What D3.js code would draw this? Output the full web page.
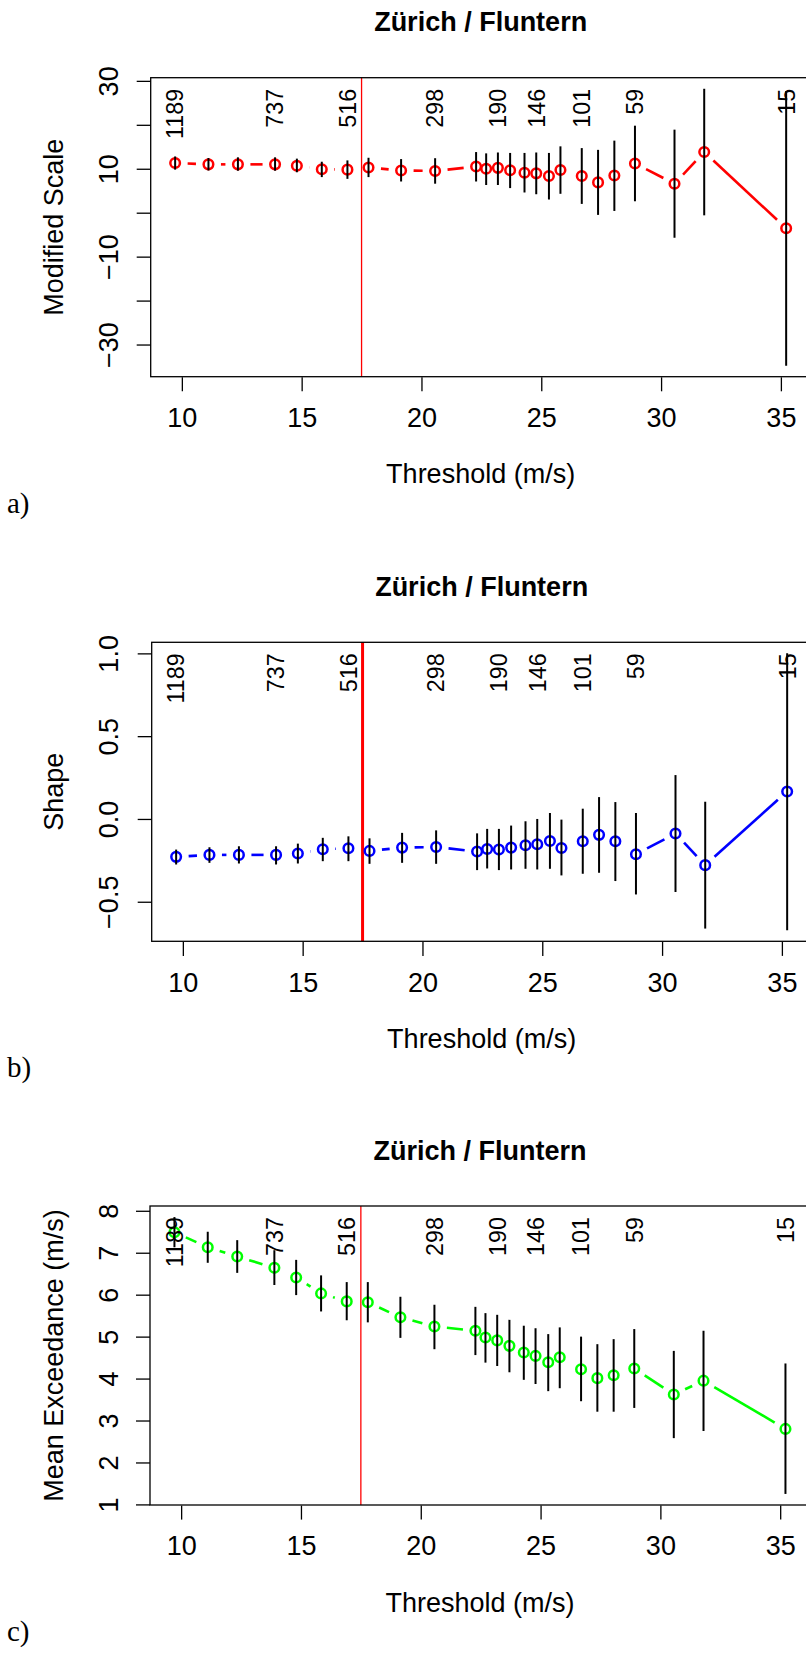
<!DOCTYPE html>
<html>
<head>
<meta charset="utf-8">
<script src="https://cdn.jsdelivr.net/npm/d3@7"></script>
<style>
  body { margin: 0; background: #fff; }
  text { font-family: "Liberation Sans", Arial, Helvetica, sans-serif; }
</style>
</head>
<body>
<div id="chart"></div>
<script>
// thresholds (m/s) used for the stability plots
const thresholds = [9.72, 11.11, 12.34, 13.89, 14.80, 15.84, 16.91, 17.79, 19.15, 20.57,
  22.28, 22.70, 23.19, 23.70, 24.30, 24.79, 25.32, 25.80, 26.69, 27.37,
  28.05, 28.91, 30.56, 31.80, 35.22]

// number of exceedances, printed above every third threshold
const countIndex = [0, 3, 6, 9, 12, 15, 18, 21, 24]
const countLabels = ["1189", "737", "516", "298", "190", "146", "101", "59", "15"]

const chosenThreshold = 17.5

// a) modified scale
const scaleEst = [11.32, 11.0, 11.0, 11.0, 10.7, 9.9, 9.8, 10.3, 9.6, 9.5,
  10.5, 10.0, 10.2, 9.65, 9.1, 8.95, 8.35, 9.7, 8.35, 6.9,
  8.45, 11.2, 6.6, 13.8, -3.55]
const scaleLo = [9.8, 9.6, 9.55, 9.55, 9.2, 8.1, 7.7, 8.1, 7.1, 6.6,
  7.1, 6.3, 6.3, 5.6, 4.6, 4.2, 3.0, 4.3, 2.0, -0.5,
  0.4, 2.6, -5.7, -0.6, -34.8]
const scaleHi = [12.8, 12.45, 12.6, 12.6, 12.3, 11.6, 11.9, 12.5, 12.2, 12.4,
  13.8, 13.5, 13.7, 13.6, 13.6, 13.7, 13.6, 15.1, 14.7, 14.3,
  16.4, 19.8, 18.9, 28.2, 27.7]
const scaleTicks = [-30, -20, -10, 0, 10, 20, 30]
const scaleTickLabels = [-30, -10, 10, 30]

// b) shape
const shapeEst = [-0.229, -0.217, -0.217, -0.217, -0.209, -0.183, -0.177, -0.193, -0.173, -0.169,
  -0.197, -0.181, -0.185, -0.173, -0.159, -0.153, -0.133, -0.175, -0.135, -0.096,
  -0.135, -0.213, -0.088, -0.279, 0.166]
const shapeLo = [-0.275, -0.265, -0.269, -0.275, -0.269, -0.255, -0.255, -0.271, -0.265, -0.271,
  -0.309, -0.299, -0.309, -0.305, -0.301, -0.305, -0.301, -0.341, -0.331, -0.325,
  -0.375, -0.456, -0.441, -0.662, -0.672]
const shapeHi = [-0.185, -0.171, -0.165, -0.165, -0.149, -0.114, -0.105, -0.117, -0.084, -0.069,
  -0.087, -0.06, -0.06, -0.04, -0.014, 0.0, 0.036, -0.004, 0.062, 0.132,
  0.102, 0.036, 0.265, 0.104, 1.0]
const shapeTicks = [-0.5, 0, 0.5, 1.0]
const shapeTickLabels = [-0.5, 0, 0.5, 1.0]

// c) mean exceedance
const meanEst = [7.49, 7.13, 6.91, 6.64, 6.41, 6.03, 5.84, 5.82, 5.46, 5.24,
  5.14, 4.98, 4.91, 4.78, 4.62, 4.54, 4.39, 4.51, 4.22, 4.01,
  4.08, 4.24, 3.62, 3.95, 2.80]
const meanLo = [7.13, 6.76, 6.52, 6.23, 5.99, 5.60, 5.39, 5.34, 4.97, 4.70,
  4.56, 4.38, 4.30, 4.15, 3.97, 3.87, 3.70, 3.77, 3.46, 3.21,
  3.21, 3.30, 2.58, 2.75, 1.25]
const meanHi = [7.85, 7.50, 7.30, 7.06, 6.83, 6.46, 6.30, 6.30, 5.95, 5.76,
  5.71, 5.56, 5.52, 5.40, 5.26, 5.20, 5.06, 5.22, 5.00, 4.82,
  4.94, 5.18, 4.66, 5.14, 4.36]
const meanTicks = [1, 2, 3, 4, 5, 6, 7, 8]
const meanTickLabels = [1, 2, 3, 4, 5, 6, 7, 8]

const xTicks = [10, 15, 20, 25, 30, 35]
const title = "Zürich / Fluntern"
const xTitle = "Threshold (m/s)"

const panels = [
  { tag: "a)", top: 77.7, left: 150.7, est: scaleEst, lo: scaleLo, hi: scaleHi, color: "#ff0000",
    yTicks: scaleTicks, yLabels: scaleTickLabels, fmt: d3.format("d"), yTitle: "Modified Scale", vWidth: 1.3 },
  { tag: "b)", top: 642.3, left: 151.7, est: shapeEst, lo: shapeLo, hi: shapeHi, color: "#0000ff",
    yTicks: shapeTicks, yLabels: shapeTickLabels, fmt: d3.format(".1f"), yTitle: "Shape", vWidth: 3 },
  { tag: "c)", top: 1206, left: 150.0, est: meanEst, lo: meanLo, hi: meanHi, color: "#00ff00",
    yTicks: meanTicks, yLabels: meanTickLabels, fmt: d3.format("d"), yTitle: "Mean Exceedance (m/s)", vWidth: 1.3 }
]

const width = 659.9
const height = 299
const gap = 12.5   // R type="b" gap around each point

// R style axis range: data range stretched by 4% on each side
function padded(lo, hi) {
  const d = (hi - lo) * 0.04
  return [lo - d, hi + d]
}

const svg = d3.select("#chart")
  .append("svg")
  .attr("width", 806)
  .attr("height", 1654)

svg.append("rect").attr("width", 806).attr("height", 1654).attr("fill", "#fff")

panels.forEach(p => drawPanel(p))

function drawPanel(p) {
  const g = svg.append("g").attr("transform", "translate(" + p.left + "," + p.top + ")")

  const x = d3.scaleLinear()
    .domain(padded(d3.min(thresholds), d3.max(thresholds)))
    .range([0, width])
  const yLow = d3.min(p.lo), yHigh = d3.max(p.hi)
  const y = d3.scaleLinear()
    .domain(padded(yLow, yHigh))
    .range([height, 0])

  // title
  g.append("text")
    .attr("x", width / 2)
    .attr("y", -46.3)
    .attr("text-anchor", "middle")
    .attr("font-size", 27)
    .attr("font-weight", "bold")
    .text(title)

  // x axis
  const xAxis = g.append("g")
    .attr("transform", "translate(0," + (height + 0.6) + ")")
    .call(d3.axisBottom(x).tickValues(xTicks).tickSize(14).tickSizeOuter(0).tickPadding(16.5)
      .tickFormat(d3.format("d")))
  xAxis.select(".domain").remove()
  xAxis.selectAll("line").attr("stroke", "#000").attr("stroke-width", 1.3)
  xAxis.selectAll("text").attr("font-size", 27).attr("fill", "#000")

  // y axis, labels turned like R's las=0
  const yAxis = g.append("g")
    .call(d3.axisLeft(y).tickValues(p.yTicks).tickSize(14).tickSizeOuter(0)
      .tickFormat(d => p.yLabels.includes(d) ? p.fmt(d) : ""))
  yAxis.select(".domain").remove()
  yAxis.selectAll("line").attr("stroke", "#000").attr("stroke-width", 1.3)
  yAxis.selectAll("text")
    .attr("x", null).attr("dy", null)
    .attr("text-anchor", "middle")
    .attr("transform", "translate(" + (118 - p.left) + ",0) rotate(-90)")
    .attr("font-size", 27).attr("fill", "#000")

  // axis titles
  g.append("text")
    .attr("x", width / 2)
    .attr("y", 405.5)
    .attr("text-anchor", "middle")
    .attr("font-size", 27)
    .text(xTitle)
  g.append("text")
    .attr("transform", "translate(" + (63 - p.left) + "," + (height / 2) + ") rotate(-90)")
    .attr("text-anchor", "middle")
    .attr("font-size", 27)
    .text(p.yTitle)

  // panel tag, LaTeX style
  svg.append("text")
    .attr("x", 7)
    .attr("y", p.top + 435)
    .style("font-family", "'Liberation Serif', 'Times New Roman', serif")
    .attr("font-size", 29)
    .text(p.tag)

  // chosen threshold
  g.append("line")
    .attr("x1", x(chosenThreshold)).attr("x2", x(chosenThreshold))
    .attr("y1", 0).attr("y2", height)
    .attr("stroke", "#ff0000")
    .attr("stroke-width", p.vWidth)

  // estimate line with gaps round the points (type = "b")
  const pts = thresholds.map((t, i) => [x(t), y(p.est[i])])
  const segs = []
  for (let i = 0; i < pts.length - 1; i++) {
    const [x0, y0] = pts[i], [x1, y1] = pts[i + 1]
    const len = Math.hypot(x1 - x0, y1 - y0)
    if (len <= 2 * gap) continue
    const ux = (x1 - x0) / len, uy = (y1 - y0) / len
    segs.push([x0 + ux * gap, y0 + uy * gap, x1 - ux * gap, y1 - uy * gap])
  }
  g.append("g").selectAll("line")
    .data(segs)
    .enter()
    .append("line")
    .attr("x1", d => d[0]).attr("y1", d => d[1])
    .attr("x2", d => d[2]).attr("y2", d => d[3])
    .attr("stroke", p.color)
    .attr("stroke-width", 2.6)

  g.append("g").selectAll("circle")
    .data(thresholds)
    .enter()
    .append("circle")
    .attr("cx", d => x(d))
    .attr("cy", (d, i) => y(p.est[i]))
    .attr("r", 4.8)
    .attr("fill", "none")
    .attr("stroke", p.color)
    .attr("stroke-width", 2.5)

  // number of exceedances
  g.append("g").selectAll("text")
    .data(countIndex)
    .enter()
    .append("text")
    .attr("transform", (d, i) => "translate(" + x(thresholds[d]) + "," + y(yHigh) + ") rotate(-90)")
    .attr("dy", "0.358em")
    .attr("text-anchor", "end")
    .attr("font-size", 23.3)
    .text((d, i) => countLabels[i])

  // confidence intervals
  g.append("g").selectAll("line")
    .data(thresholds)
    .enter()
    .append("line")
    .attr("x1", d => x(d)).attr("x2", d => x(d))
    .attr("y1", (d, i) => y(p.lo[i]))
    .attr("y2", (d, i) => y(p.hi[i]))
    .attr("stroke", "#000")
    .attr("stroke-width", 2)

  // box
  g.append("rect")
    .attr("width", width).attr("height", height)
    .attr("fill", "none")
    .attr("stroke", "#000")
    .attr("stroke-width", 1.3)
}
</script>
</body>
</html>
